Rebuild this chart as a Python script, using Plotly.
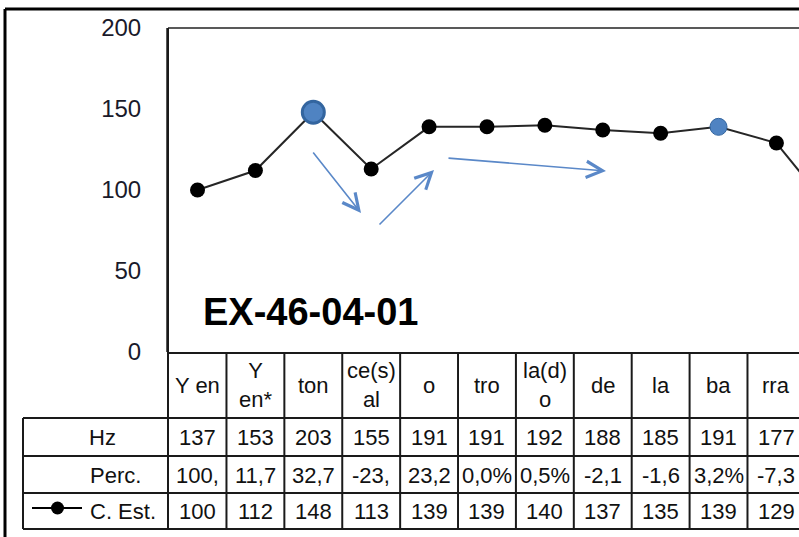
import plotly.graph_objects as go

# ---- data ----
categories = ["Y en", "Y<br>en*", "ton", "ce(s)<br>al", "o", "tro", "la(d)<br>o", "de", "la", "ba", "rra", "next"]
hz = ["137", "153", "203", "155", "191", "191", "192", "188", "185", "191", "177", ""]
perc = ["100,", "11,7", "32,7", "-23,", "23,2", "0,0%", "0,5%", "-2,1", "-1,6", "3,2%", "-7,3", ""]
c_est = [100, 112, 148, 113, 139, 139, 140, 137, 135, 139, 129, 85]
highlight = [False, False, True, False, False, False, False, False, False, True, False, False]
big = [False, False, True, False, False, False, False, False, False, False, False, False]
y_ticks = [0, 50, 100, 150, 200]
title_text = "EX-46-04-01"

W, H = 799, 537
L, T, B = 168, 28, 352  # plot area pixels
PW = W - L
PH = B - T
XR = [-0.51, 10.39]

def px_x(px):
    return (px - L) / PW

def px_y(py):
    return (B - py) / PH

def data_x(px):
    return XR[0] + (px - L) / PW * (XR[1] - XR[0])

def data_y(py):
    return (B - py) / PH * 200

FONT = "Arial, Liberation Sans, sans-serif"
n = len(categories)
xs = list(range(n))

colors = ["#4f83c2" if h else "#000000" for h in highlight]
sizes = [22 if b else (17 if h else 15) for h, b in zip(highlight, big)]
lcolors = ["#33659f" if h else "#000000" for h in highlight]
lwidths = [3 if b else (1 if h else 0) for h, b in zip(highlight, big)]

fig = go.Figure()
fig.add_trace(go.Scatter(
    x=xs, y=c_est, mode="lines+markers",
    line=dict(color="#262626", width=2),
    marker=dict(color=colors, size=sizes, opacity=1, line=dict(color=lcolors, width=lwidths)),
    showlegend=False, hoverinfo="skip",
))

shapes = []
annotations = []

# outer chart border (cropped)
shapes.append(dict(type="line", xref="paper", yref="paper", x0=px_x(5), x1=px_x(820), y0=px_y(9), y1=px_y(9),
                   line=dict(color="#000000", width=3)))
shapes.append(dict(type="line", xref="paper", yref="paper", x0=px_x(5), x1=px_x(5), y0=px_y(9), y1=px_y(560),
                   line=dict(color="#000000", width=3)))
# plot area border (top)
shapes.append(dict(type="line", xref="paper", yref="paper", x0=0, x1=1.05, y0=1, y1=1,
                   line=dict(color="#595959", width=2)))

# table rows (pixel y positions)
row_lines = [353, 418, 456, 493, 529]
for i, ry in enumerate(row_lines):
    x_start = px_x(168) if i == 0 else px_x(23)
    shapes.append(dict(type="line", xref="paper", yref="paper", x0=x_start, x1=1.05, y0=px_y(ry), y1=px_y(ry),
                       line=dict(color="#1a1a1a", width=2)))
# vertical lines
shapes.append(dict(type="line", xref="paper", yref="paper", x0=0, x1=0, y0=1, y1=px_y(529),
                   line=dict(color="#1a1a1a", width=2)))
shapes.append(dict(type="line", xref="paper", yref="paper", x0=px_x(23), x1=px_x(23), y0=px_y(418), y1=px_y(529),
                   line=dict(color="#1a1a1a", width=2)))
for k in range(n):
    shapes.append(dict(type="line", xref="x", yref="paper", x0=k + 0.5, x1=k + 0.5, y0=0, y1=px_y(529),
                       line=dict(color="#1a1a1a", width=2)))

row_centers = {"cat": 385, "hz": 437, "perc": 475, "est": 511}
TF = dict(family=FONT, size=22, color="#111111")
for k in range(n):
    annotations.append(dict(x=k, y=px_y(row_centers["cat"]), xref="x", yref="paper", text=categories[k],
                            showarrow=False, font=TF, xanchor="center", yanchor="middle"))
    annotations.append(dict(x=k, y=px_y(row_centers["hz"]), xref="x", yref="paper", text=hz[k],
                            showarrow=False, font=TF, xanchor="center", yanchor="middle"))
    annotations.append(dict(x=k, y=px_y(row_centers["perc"]), xref="x", yref="paper", text=perc[k],
                            showarrow=False, font=TF, xanchor="center", yanchor="middle"))
    annotations.append(dict(x=k, y=px_y(row_centers["est"]), xref="x", yref="paper",
                            text=str(c_est[k]) if hz[k] else "",
                            showarrow=False, font=TF, xanchor="center", yanchor="middle"))

# row labels
annotations.append(dict(x=px_x(102), y=px_y(row_centers["hz"]), xref="paper", yref="paper", text="Hz",
                        showarrow=False, font=TF, xanchor="center", yanchor="middle"))
annotations.append(dict(x=px_x(115), y=px_y(row_centers["perc"]), xref="paper", yref="paper", text="Perc.",
                        showarrow=False, font=TF, xanchor="center", yanchor="middle"))
annotations.append(dict(x=px_x(158), y=px_y(row_centers["est"]), xref="paper", yref="paper", text="C. Est.",
                        showarrow=False, font=TF, xanchor="right", yanchor="middle"))
# legend key
shapes.append(dict(type="line", xref="paper", yref="paper", x0=px_x(32), x1=px_x(82),
                   y0=px_y(508), y1=px_y(508), line=dict(color="#000000", width=2)))
shapes.append(dict(type="circle", xref="paper", yref="paper", x0=px_x(51), x1=px_x(64),
                   y0=px_y(501.5), y1=px_y(514.5), fillcolor="#000000", line=dict(color="#000000", width=0)))

# title
annotations.append(dict(x=px_x(310), y=px_y(312), xref="paper", yref="paper", text="<b>" + title_text + "</b>",
                        showarrow=False, font=dict(family=FONT, size=38, color="#000000"),
                        xanchor="center", yanchor="middle"))

# blue arrows
arrows = [((312, 151), (361, 213)), ((378, 226), (434, 170)), ((447, 158), (606, 171))]
for (tx, ty), (hx, hy) in arrows:
    annotations.append(dict(x=data_x(hx), y=data_y(hy), ax=data_x(tx), ay=data_y(ty),
                            xref="x", yref="y", axref="x", ayref="y", text="", showarrow=True,
                            arrowhead=5, arrowsize=2.0, arrowwidth=1.6, arrowcolor="#5a88c8"))

fig.update_layout(
    width=W, height=H,
    margin=dict(l=L, r=0, t=T, b=H - B, pad=0),
    paper_bgcolor="white", plot_bgcolor="white",
    xaxis=dict(range=XR, showticklabels=False, showgrid=False, zeroline=False, showline=False,
               ticks="", fixedrange=True),
    yaxis=dict(range=[0, 200], tickvals=y_ticks, showgrid=False, zeroline=False,
               showline=True, linecolor="#595959", linewidth=2, ticks="",
               ticklabelstandoff=20,
               tickfont=dict(family=FONT, size=24, color="#1a1a2a")),
    shapes=shapes, annotations=annotations,
    showlegend=False,
)

fig.write_html("out.html", config={"displayModeBar": False},
               post_script="document.body.style.margin='0';document.body.style.overflow='hidden';")
